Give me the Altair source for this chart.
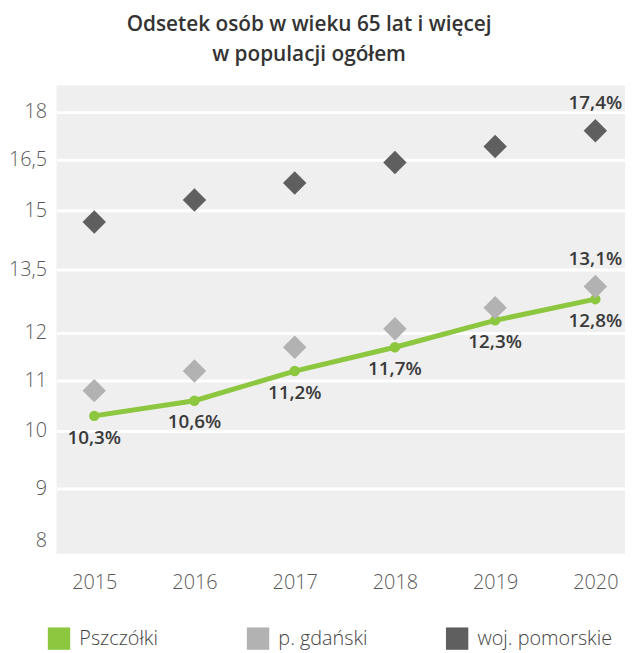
import altair as alt
import pandas as pd

years = ["2015", "2016", "2017", "2018", "2019", "2020"]
pszczolki = [10.3, 10.6, 11.2, 11.7, 12.3, 12.8]
gdanski = [10.8, 11.2, 11.7, 12.1, 12.6, 13.1]
pomorskie = [14.7, 15.3, 15.8, 16.4, 16.9, 17.4]
series_names = ["Pszczółki", "p. gdański", "woj. pomorskie"]
series_colors = ["#8dc63f", "#b2b2b2", "#5f5f5f"]
y_ticks = [8, 9, 10, 11, 12, 13.5, 15, 16.5, 18]
title_lines = ["Odsetek osób w wieku 65 lat i więcej", "w populacji ogółem"]

rows = []
for name, vals in zip(series_names, [pszczolki, gdanski, pomorskie]):
    for yr, v in zip(years, vals):
        rows.append({"year": yr, "series": name, "value": v,
                     "label": f"{v:.1f}".replace(".", ",") + "%"})
df = pd.DataFrame(rows)

FONT = "Open Sans"
W, H = 574, 473
# piecewise y scale (the reference axis is not linear)
y_px = [460, 407, 349, 298, 250, 186, 126, 74.5, 26.5]

x_enc = alt.X("year:O",
              scale=alt.Scale(type="point", padding=0.336, align=0.56),
              axis=alt.Axis(title=None, labelAngle=0, ticks=False, domain=False, grid=False,
                            labelFontSize=20, labelColor="#585858", labelFont=FONT,
                            labelFontWeight=300, labelPadding=19))
y_enc = alt.Y("value:Q",
              scale=alt.Scale(domain=y_ticks, range=y_px, nice=False, zero=False),
              axis=alt.Axis(title=None, values=y_ticks, ticks=False, domain=False,
                            labelExpr="replace(toString(datum.value), '.', ',')",
                            labelFontSize=20, labelColor="#585858", labelFont=FONT,
                            labelFontWeight=300, labelPadding=10, grid=True, gridWidth=3,
                            gridColor=alt.condition("datum.value === 8",
                                                    alt.value("rgba(0,0,0,0)"),
                                                    alt.value("#ffffff"))))

base = alt.Chart(df)
is_p = alt.datum.series == "Pszczółki"

line = base.transform_filter(is_p).mark_line(color=series_colors[0], strokeWidth=5).encode(
    x=x_enc, y=y_enc)
dots = base.transform_filter(is_p).mark_circle(color=series_colors[0], size=110, opacity=1).encode(
    x=x_enc, y=y_enc)
diamonds = base.transform_filter(alt.datum.series != "Pszczółki").mark_point(
    shape="diamond", filled=True, size=560, opacity=1).encode(
    x=x_enc, y=y_enc,
    color=alt.Color("series:N",
                    scale=alt.Scale(domain=series_names, range=series_colors),
                    legend=alt.Legend(orient="none", legendX=-9, legendY=547,
                                      direction="horizontal", columns=3, title=None,
                                      symbolType="square", symbolSize=510,
                                      symbolStrokeWidth=0, symbolOpacity=1,
                                      labelFontSize=20, labelColor="#444444",
                                      labelFont=FONT, labelFontWeight=300, labelOffset=9,
                                      gridAlign="all", columnPadding=33)))
lab_p = base.transform_filter(is_p).mark_text(
    dy=22, fontSize=19, fontWeight=600, font=FONT, color="#3a3a3a").encode(
    x=x_enc, y=y_enc, text="label:N")
lab_o = base.transform_filter(
    (alt.datum.series != "Pszczółki") & (alt.datum.year == "2020")).mark_text(
    dy=-28, fontSize=19, fontWeight=600, font=FONT, color="#3a3a3a").encode(
    x=x_enc, y=y_enc, text="label:N")

chart = alt.layer(line, dots, diamonds, lab_p, lab_o).properties(
    width=W, height=H,
    autosize=alt.AutoSizeParams(type="none"),
    padding={"left": 49, "top": 75, "right": 0, "bottom": 100},
    title=alt.TitleParams(text=title_lines, fontSize=21, fontWeight=600, font=FONT,
                          color="#333333", anchor="middle", dx=-32, offset=21,
                          lineHeight=30),
).configure_view(fill="#efefef", stroke=None)

chart.save("out.html", embed_options={"renderer": "svg", "actions": False})
